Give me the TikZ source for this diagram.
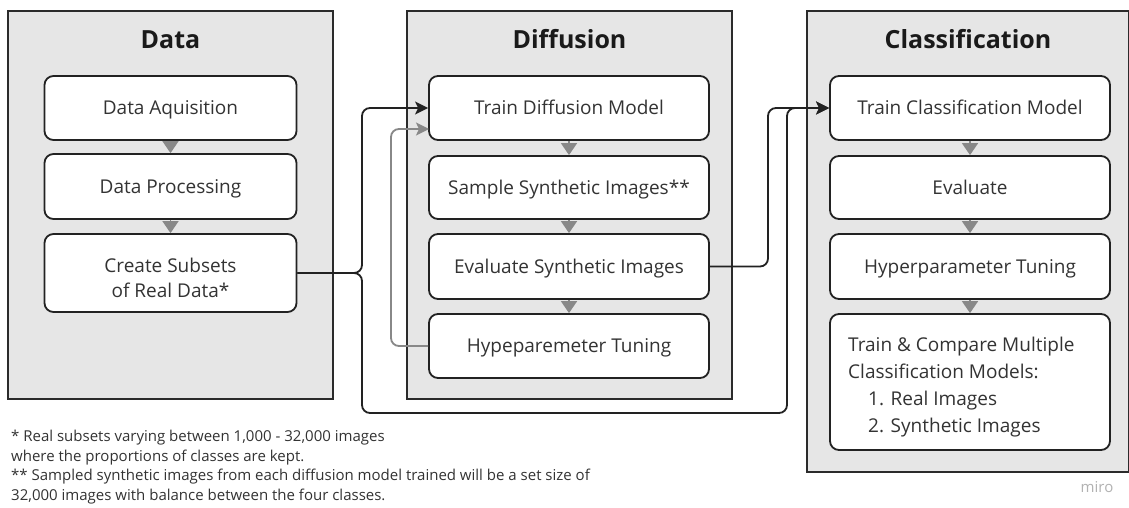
\documentclass[tikz,border=0pt]{standalone}
\usepackage{fontspec}
\setmainfont{Open Sans}
\usetikzlibrary{arrows.meta}
\definecolor{panelfill}{HTML}{E6E6E6}
\definecolor{bordc}{HTML}{2B2B2B}
\definecolor{boxc}{HTML}{222222}
\definecolor{textc}{HTML}{333333}
\definecolor{titlec}{HTML}{1A1A1A}
\definecolor{arrowgray}{HTML}{888888}
\definecolor{connc}{HTML}{222222}
\begin{document}
\begin{tikzpicture}[x=1pt,y=-1pt,
  panel/.style={draw=bordc, fill=panelfill, line width=1.5pt, inner sep=0pt},
  box/.style={draw=boxc, fill=white, line width=1.8pt, rounded corners=9pt, inner sep=0pt,
    font=\fontsize{19}{25.7}\selectfont, text=textc, text height=13.6pt, text depth=0pt},
  title/.style={font=\fontsize{25}{30}\selectfont\bfseries, text=titlec, anchor=base},
  txt/.style={font=\fontsize{19}{26.7}\selectfont, text=textc, inner sep=0pt},
  flow/.style={draw=arrowgray, line width=1.6pt, -{Triangle[length=12pt,width=16pt]}},
  conn/.style={draw=connc, line width=1.8pt, rounded corners=8pt, -{Stealth[length=13pt,width=13pt,inset=3pt]}},
  fb/.style={conn, draw=arrowgray}
]
\useasboundingbox (0,0) rectangle (1129,508);
\fill[white] (0,0) rectangle (1129,508);
% panels
\node[panel, minimum width=325, minimum height=388] (pdata) at (170.5,205) {};
\node[panel, minimum width=325, minimum height=388] (pdiff) at (569.5,205) {};
\node[panel, minimum width=322, minimum height=461] (pclass) at (968,241.5) {};
% titles
\node[title] (tdata) at (170.5,48.5) {Data};
\node[title] (tdiff) at (569.5,48.5) {Diffusion};
\node[title] (tclass) at (968,48.5) {Classification};
% data column
\node[box, minimum width=252, minimum height=64] (d1) at (170.5,108) {Data Aquisition};
\node[box, minimum width=252, minimum height=65] (d2) at (170.5,186.5) {Data Processing};
\node[box, minimum width=252, minimum height=78] (d3) at (170.5,273) {};
\node[txt, anchor=base, align=center, font=\fontsize{19}{25.7}\selectfont] (d3t) at (170.5,297.7) {Create Subsets\\of Real Data*};
% diffusion column
\node[box, minimum width=280, minimum height=64] (f1) at (569,108) {Train Diffusion Model};
\node[box, minimum width=280, minimum height=63] (f2) at (569,187.5) {Sample Synthetic Images**};
\node[box, minimum width=280, minimum height=65] (f3) at (569,266.5) {Evaluate Synthetic Images};
\node[box, minimum width=280, minimum height=64] (f4) at (569,346) {Hypeparemeter Tuning};
% classification column
\node[box, minimum width=280, minimum height=64] (c1) at (970,108) {Train Classification Model};
\node[box, minimum width=280, minimum height=63] (c2) at (970,187.5) {Evaluate};
\node[box, minimum width=280, minimum height=65] (c3) at (970,266.5) {Hyperparameter Tuning};
\node[box, minimum width=280, minimum height=136] (c4) at (970,382) {};
\node[txt, anchor=base west, align=left] (c4t) at (848,432) {Train \& Compare Multiple\\Classification Models:\\\hspace{20pt}1. Real Images\\\hspace{20pt}2. Synthetic Images};
% flows within columns
\draw[flow] (d1.south) -- (d2.north);
\draw[flow] (d2.south) -- (d3.north);
\draw[flow] (f1.south) -- (f2.north);
\draw[flow] (f2.south) -- (f3.north);
\draw[flow] (f3.south) -- (f4.north);
\draw[flow] (c1.south) -- (c2.north);
\draw[flow] (c2.south) -- (c3.north);
\draw[flow] (c3.south) -- (c4.north);
% connectors
\coordinate (fbin) at (429,129);
\draw[conn] (d3.east) -- (362,273) -- (362,108) -- (f1.west);
\draw[conn] (d3.east) -- (362,273) -- (362,413) -- (787,413) -- (787,108) -- (c1.west);
\draw[conn] (f3.east) -- (768,266.5) -- (768,108) -- (c1.west);
\draw[fb] (f4.west) -- (391,346) -- (391,129) -- (fbin);
% footnotes
\node[anchor=base west, align=left, inner sep=0pt, font=\fontsize{15}{19.5}\selectfont, text=textc] (note) at (11,500) {* Real subsets varying between 1,000 - 32,000 images\\where the proportions of classes are kept.\\** Sampled synthetic images from each diffusion model trained will be a set size of\\32,000 images with balance between the four classes.};
\node[anchor=base, inner sep=0pt, font=\fontsize{15}{15}\selectfont, text=black!30] (miro) at (1097,492) {miro};
\end{tikzpicture}
\end{document}
